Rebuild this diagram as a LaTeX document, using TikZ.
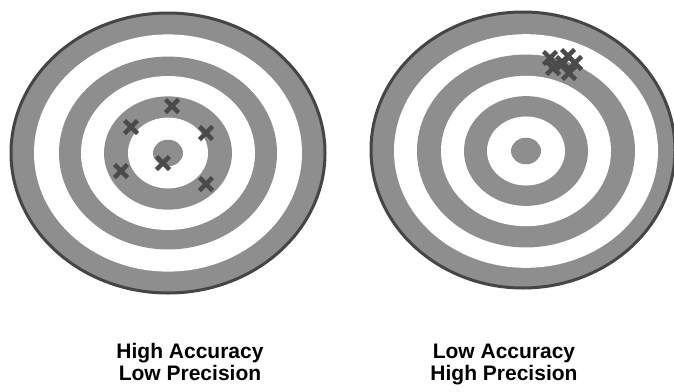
\documentclass[tikz,border=0pt]{standalone}
\usepackage{fontspec}
\newfontfamily\labelfont{Liberation Sans}
\definecolor{ringgray}{HTML}{8E8E8E}
\definecolor{rimgray}{HTML}{454545}
\definecolor{hitgray}{HTML}{4A4A4A}
\tikzset{
  rim/.style={fill=ringgray, draw=rimgray, line width=3pt},
  hit/.style={draw=hitgray, line width=4.5pt},
  caption/.style={font=\labelfont\bfseries\fontsize{21}{22}\selectfont, align=center, anchor=base}
}
\begin{document}
\begin{tikzpicture}[x=1pt, y=-1pt]
  \useasboundingbox (0,0) rectangle (674,391);
  \clip (0,0) rectangle (674,391);
  % left target: scattered round the bull's eye
  \draw[rim] (168,153) ellipse[x radius=157pt, y radius=140pt];
  \foreach \r/\c in {134/white, 109/ringgray, 87/white, 64/ringgray, 40/white, 15/ringgray}
    \fill[\c] (168,153) ellipse[x radius=\r pt, y radius=0.885*\r pt];
  \foreach \p in {(172,106), (131,127), (206,133), (121,171), (163,163), (206,184)}
    \draw[hit] \p ++(-6.5,-6.5) -- ++(13,13) ++(-13,0) -- ++(13,-13);
  % right target: tight group off centre
  \draw[rim] (523,150) ellipse[x radius=152pt, y radius=138pt];
  \foreach \r/\c in {132/white, 109/ringgray, 85/white, 62/ringgray, 39/white, 15/ringgray}
    \fill[\c] (526,151) ellipse[x radius=\r pt, y radius=0.885*\r pt];
  \foreach \p in {(550,58), (553,68), (563,63), (568,56), (575,63), (569,73)}
    \draw[hit] \p ++(-6.5,-6.5) -- ++(13,13) ++(-13,0) -- ++(13,-13);
  \node[caption] (leftcap) at (190,380) {High Accuracy\\Low Precision};
  \node[caption] (rightcap) at (504,380) {Low Accuracy\\High Precision};
\end{tikzpicture}
\end{document}
